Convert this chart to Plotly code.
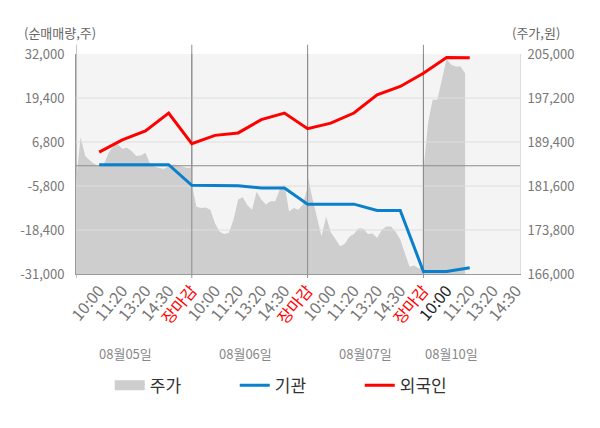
import plotly.graph_objects as go

# 시간대 / 날짜
slot_labels = ["10:00", "11:20", "13:20", "14:30", "장마감"]
day_labels = ["08월05일", "08월06일", "08월07일", "08월10일"]
day_label_pos = [2.13, 7.31, 12.49, 16.23]

# 순매매량(주): 10:00, 11:20, 13:20, 14:30, 장마감 (누적)
foreign = [3900, 7400, 10000, 15100, 6300,
           8700, 9400, 13200, 15100, 10600,
           12200, 15100, 20300, 22700, 26500,
           31000, 30900]
institution = [300, 300, 300, 300, -5600,
               -5600, -5700, -6400, -6400, -11000,
               -11000, -11000, -12800, -12800, -30300,
               -30300, -29200]

# 주가(원), 하루를 0.2칸 간격으로 읽은 값
price_0805 = [182400, 190300, 186900, 186100, 185500, 185100, 185400, 187400, 188600,
              189000, 188200, 188400, 187800, 186900, 187000, 187500, 185500, 185000,
              184800, 184600, 185100, 185400, 185300, 185100, 184800, 184900]
price_0806 = [181800, 177900, 177700, 177800, 177400, 175000, 173500, 173100, 173300,
              175600, 179200, 179600, 178200, 177400, 180600, 179200, 178300, 178900,
              178900, 181000, 181800, 177100, 177700, 177400, 178300, 181500]
price_0807 = [183500, 179500, 176200, 172700, 176200, 173400, 172200, 170900, 171300,
              172600, 173100, 174100, 174000, 173100, 173200, 172400, 173800, 174400,
              174400, 173500, 172100, 169700, 167300, 167500, 167000, 167100]
price_0810 = [184200, 192800, 196900, 196900, 200700, 204100, 203100, 202800, 202800, 201600]

vol_ticks = [-31000, -18400, -5800, 6800, 19400, 32000]
price_ticks = [166000, 173800, 181600, 189400, 197200, 205000]

font = "Noto Sans CJK KR"
area_color = "#cecece"
n_slots = len(slot_labels)
x_end = 19.17
step = 0.2

price_x, price_y = [], []
for d, day in enumerate([price_0805, price_0806, price_0807, price_0810]):
    for i, p in enumerate(day):
        price_x.append(d * n_slots + i * step)
        price_y.append(p)

line_x = list(range(1, len(foreign) + 1))

# x축 라벨
tickvals, ticktext = [], []
for d in range(len(day_labels)):
    for k, lab in enumerate(slot_labels):
        v = d * n_slots + k + 1
        if v > x_end:
            break
        if lab == "장마감":
            lab = '<span style="color:#ff0000">장마감</span>'
        elif d == len(day_labels) - 1 and k == 0:
            lab = '<span style="color:#222222">' + lab + '</span>'
        tickvals.append(v)
        ticktext.append(lab)

fig = go.Figure()

fig.add_trace(go.Scatter(x=price_x, y=price_y, name="주가", mode="lines", yaxis="y",
                         fill="tozeroy", fillcolor=area_color, line=dict(width=0, color=area_color),
                         showlegend=False, hoverinfo="skip"))
# 범례용 (사각형 모양)
fig.add_trace(go.Scatter(x=[None], y=[None], name="주가", mode="lines", yaxis="y",
                         line=dict(width=11, color=area_color)))

# 격자선은 주가 영역 위에 보이도록 선으로 그림
gx, gy = [], []
for v in vol_ticks[1:-1]:
    gx += [0, x_end, None]
    gy += [v, v, None]
fig.add_trace(go.Scatter(x=gx, y=gy, yaxis="y2", mode="lines", showlegend=False,
                         line=dict(color="#dedede", width=1), hoverinfo="skip"))
vx, vy = [0, x_end, None], [0, 0, None]
for d in range(1, len(day_labels)):
    vx += [d * n_slots, d * n_slots, None]
    vy += [vol_ticks[0], vol_ticks[-1], None]
fig.add_trace(go.Scatter(x=vx, y=vy, yaxis="y2", mode="lines", showlegend=False,
                         line=dict(color="#8c8c8c", width=1), hoverinfo="skip"))

fig.add_trace(go.Scatter(x=line_x, y=institution, name="기관", mode="lines", yaxis="y2",
                         line=dict(color="#0a7fcc", width=3)))
fig.add_trace(go.Scatter(x=line_x, y=foreign, name="외국인", mode="lines", yaxis="y2",
                         line=dict(color="#ff0000", width=3)))

for d in range(len(day_labels)):
    fig.add_shape(type="line", xref="x", yref="paper", x0=d * n_slots, x1=d * n_slots,
                  y0=-0.018, y1=1.042, line=dict(color="#8c8c8c", width=1), layer="below")

for lab, pos in zip(day_labels, day_label_pos):
    fig.add_annotation(x=pos, y=-0.36, xref="x", yref="paper", text=lab, showarrow=False,
                       yanchor="middle", font=dict(family=font, size=13, color="#888888"))

fig.add_annotation(x=-0.121, y=1.097, xref="paper", yref="paper", text="(순매매량,주)",
                   showarrow=False, xanchor="left", yanchor="middle",
                   font=dict(family=font, size=13, color="#666666"))
fig.add_annotation(x=1.0945, y=1.097, xref="paper", yref="paper", text="(주가,원)",
                   showarrow=False, xanchor="right", yanchor="middle",
                   font=dict(family=font, size=13, color="#666666"))

# 페이지 여백(8px)을 고려한 크기
fig.update_layout(
    width=592, height=420,
    margin=dict(l=68, r=80, t=46, b=154, autoexpand=False),
    paper_bgcolor="white", plot_bgcolor="#f4f4f4",
    font=dict(family=font, color="#666666"),
    xaxis=dict(range=[0, x_end], tickvals=tickvals, ticktext=ticktext, tickangle=-50,
               tickfont=dict(size=16, color="#777777"), showgrid=False, zeroline=False,
               showline=True, linecolor="#999999", ticks="", automargin=False),
    yaxis=dict(side="right", range=[price_ticks[0], price_ticks[-1]], tickvals=price_ticks,
               ticktext=[f"{v:,}" for v in price_ticks], showgrid=False, zeroline=False,
               showline=True, linecolor="#dddddd", ticks="outside", ticklen=4,
               tickcolor="rgba(0,0,0,0)", tickfont=dict(size=13, color="#777777"),
               automargin=False),
    yaxis2=dict(side="left", overlaying="y", range=[vol_ticks[0], vol_ticks[-1]],
                tickvals=vol_ticks, ticktext=[f"{v:,}" for v in vol_ticks], showgrid=False,
                zeroline=False, showline=True, linecolor="#999999", ticks="outside", ticklen=8,
                tickcolor="rgba(0,0,0,0)", tickfont=dict(size=13, color="#777777"),
                automargin=False),
    legend=dict(orientation="h", x=0.076, y=-0.508, yanchor="middle", xanchor="left",
                entrywidth=80, font=dict(family=font, size=17, color="#333333"),
                itemwidth=30),
    showlegend=True,
)

fig.write_html("out.html")
